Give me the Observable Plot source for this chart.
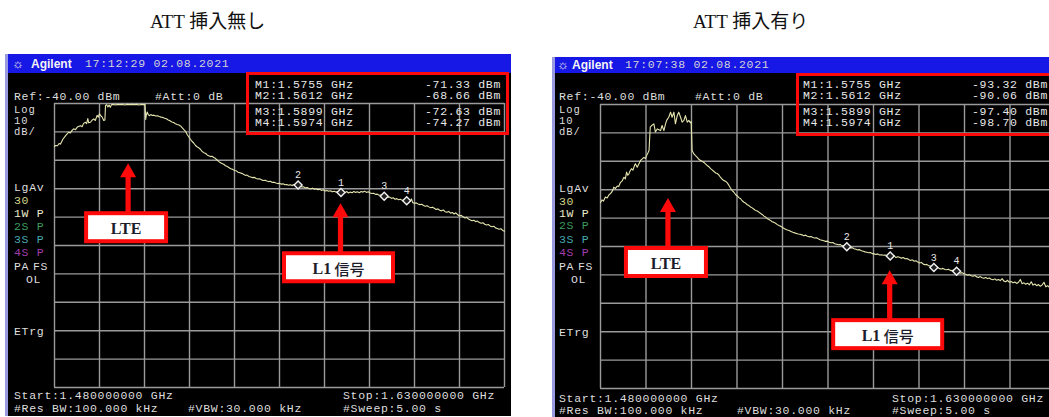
<!DOCTYPE html>
<html lang="ja">
<head>
<meta charset="utf-8">
<script src="https://cdn.jsdelivr.net/npm/d3@7"></script>
<script src="https://cdn.jsdelivr.net/npm/@observablehq/plot@0.6"></script>
<style>
html,body{margin:0;padding:0;background:#fff;}
#root{position:relative;width:1049px;height:417px;overflow:hidden;background:#fff;}
.abs{position:absolute;white-space:nowrap;}
.title{font-family:"Liberation Serif","Noto Sans CJK JP",serif;font-size:19px;line-height:20px;color:#111;}
.mono{font-family:"Liberation Mono","DejaVu Sans Mono",monospace;font-size:11.5px;line-height:10px;color:#dedede;letter-spacing:0.7px;}
.small{font-size:10.5px;line-height:9px;letter-spacing:1px;}
.brand{font-family:"Liberation Sans","DejaVu Sans",sans-serif;font-weight:bold;font-size:12px;line-height:10px;color:#f4f4f4;}
</style>
</head>
<body>
<div id="root"></div>
<script>
// ---------- data ----------
const FREQ_START = 1.48, FREQ_STOP = 1.63;      // GHz
const REF_LEVEL = -40, BOTTOM_LEVEL = -140;      // dBm, 10 dB/div
const xDivs = [1.480, 1.495, 1.510, 1.525, 1.540, 1.555, 1.570, 1.585, 1.600, 1.615, 1.630];
const yDivs = [-40, -50, -60, -70, -80, -90, -100, -110, -120, -130, -140];

const titles = ["ATT 挿入無し", "ATT 挿入有り"];
const timestamps = ["17:12:29 02.08.2021", "17:07:38 02.08.2021"];

const markerIds = [1, 2, 3, 4];
const markerFreqs = [1.5755, 1.5612, 1.5899, 1.5974];
const markerLevelsNoAtt = [-71.33, -68.66, -72.63, -74.27];
const markerLevelsAtt = [-93.32, -90.06, -97.40, -98.70];

const annotationLabels = ["LTE", "L1 信号"];
const annotationFreqNoAtt = [1.5047, 1.5755];
const annotationLevelNoAtt = [-61.2, -75.3];
const annotationFreqAtt = [1.5024, 1.5755];
const annotationLevelAtt = [-73.1, -98.5];

const traceFreqNoAtt = [
1.4800,1.4803,1.4810,1.4815,1.4820,1.4828,1.4837,1.4843,1.4848,1.4853,1.4858,1.4864,1.4870,1.4876,1.4882,1.4887,1.4892,1.4897,1.4903,1.4907,
1.4911,1.4914,1.4920,1.4925,1.4931,1.4936,1.4942,1.4946,1.4950,1.4955,1.4959,1.4964,1.4968,1.4970,1.4974,1.4978,1.4982,1.4986,1.4990,1.4996,
1.5003,1.5010,1.5018,1.5026,1.5034,1.5042,1.5050,1.5058,1.5066,1.5074,1.5082,1.5090,1.5098,1.5102,1.5104,1.5106,1.5109,1.5112,1.5116,1.5121,
1.5126,1.5131,1.5137,1.5143,1.5149,1.5155,1.5161,1.5167,1.5173,1.5179,1.5185,1.5191,1.5197,1.5203,1.5209,1.5215,1.5220,1.5226,1.5232,1.5237,
1.5242,1.5248,1.5253,1.5258,1.5264,1.5270,1.5276,1.5281,1.5287,1.5292,1.5298,1.5304,1.5309,1.5314,1.5320,1.5325,1.5331,1.5336,1.5341,1.5347,
1.5352,1.5358,1.5364,1.5370,1.5376,1.5382,1.5388,1.5394,1.5400,1.5406,1.5412,1.5418,1.5424,1.5430,1.5436,1.5442,1.5448,1.5454,1.5460,1.5466,
1.5472,1.5478,1.5484,1.5490,1.5496,1.5502,1.5508,1.5514,1.5520,1.5526,1.5532,1.5538,1.5544,1.5550,1.5556,1.5562,1.5568,1.5574,1.5580,1.5586,
1.5592,1.5598,1.5604,1.5612,1.5618,1.5624,1.5630,1.5636,1.5642,1.5648,1.5654,1.5660,1.5666,1.5672,1.5678,1.5684,1.5690,1.5696,1.5702,1.5708,
1.5714,1.5720,1.5726,1.5732,1.5738,1.5744,1.5750,1.5755,1.5762,1.5768,1.5774,1.5780,1.5786,1.5792,1.5798,1.5804,1.5810,1.5816,1.5822,1.5828,
1.5834,1.5840,1.5846,1.5852,1.5858,1.5864,1.5870,1.5876,1.5882,1.5888,1.5894,1.5899,1.5905,1.5911,1.5917,1.5923,1.5929,1.5935,1.5941,1.5947,
1.5953,1.5959,1.5965,1.5974,1.5980,1.5986,1.5990,1.5994,1.6000,1.6006,1.6012,1.6018,1.6024,1.6030,1.6036,1.6042,1.6048,1.6054,1.6060,1.6066,
1.6072,1.6078,1.6084,1.6090,1.6096,1.6102,1.6108,1.6114,1.6120,1.6126,1.6132,1.6138,1.6144,1.6150,1.6156,1.6162,1.6168,1.6174,1.6180,1.6186,
1.6192,1.6198,1.6204,1.6210,1.6216,1.6222,1.6228,1.6234,1.6240,1.6246,1.6252,1.6258,1.6264,1.6270,1.6276,1.6282,1.6288,1.6294,1.6300];
const traceLevelNoAtt = [
-55.2,-54.8,-54.9,-54.1,-54.3,-52.6,-51.3,-50.6,-50.1,-50.4,-49.5,-48.9,-49.2,-48.3,-48.0,-47.8,-48.2,-47.0,-46.6,-47.1,
-45.3,-46.8,-46.6,-45.9,-45.4,-46.0,-44.2,-44.8,-43.6,-44.4,-44.8,-46.0,-45.8,-40.7,-40.4,-41.2,-40.5,-41.3,-40.4,-40.3,
-40.5,-40.3,-40.4,-40.3,-40.5,-40.3,-40.4,-40.3,-40.4,-40.3,-40.5,-40.3,-40.4,-40.3,-45.6,-44.1,-43.0,-43.8,-44.3,-43.9,
-44.2,-44.1,-44.4,-44.3,-44.6,-44.8,-44.9,-45.2,-45.4,-45.8,-46.1,-46.5,-46.7,-47.1,-47.4,-47.6,-47.9,-48.6,-49.3,-49.8,
-50.9,-51.8,-52.6,-53.3,-53.9,-54.8,-55.3,-55.6,-56.2,-56.9,-57.3,-57.6,-58.1,-58.4,-58.7,-58.6,-59.0,-59.3,-59.8,-60.4,
-60.8,-61.1,-61.4,-61.9,-62.2,-62.6,-63.0,-63.2,-63.6,-63.7,-64.2,-64.4,-64.6,-64.9,-65.3,-65.2,-65.7,-65.9,-66.1,-66.0,
-66.4,-66.6,-66.5,-66.9,-67.1,-67.0,-67.3,-67.5,-67.4,-67.8,-67.7,-68.0,-68.2,-68.1,-68.4,-68.3,-68.6,-68.5,-68.8,-68.6,
-68.9,-68.5,-68.7,-68.66,-69.0,-69.4,-69.3,-69.7,-69.6,-69.9,-70.1,-69.8,-70.2,-70.0,-70.4,-70.2,-70.6,-70.4,-70.8,-70.6,
-70.9,-70.7,-71.1,-70.9,-71.2,-71.0,-71.3,-71.33,-71.1,-71.4,-71.0,-71.5,-71.2,-71.4,-71.0,-71.3,-71.1,-71.4,-71.0,-71.2,
-70.9,-71.3,-71.1,-71.5,-71.7,-71.6,-72.0,-71.9,-72.3,-72.2,-72.5,-72.63,-72.8,-73.1,-72.9,-73.4,-73.2,-73.7,-73.5,-73.9,
-73.7,-74.1,-74.0,-74.27,-74.7,-74.3,-73.6,-74.9,-75.1,-75.0,-75.4,-75.6,-75.5,-75.9,-76.2,-76.0,-76.4,-76.7,-76.5,-76.9,
-77.3,-77.1,-77.6,-77.8,-77.5,-78.1,-78.3,-78.0,-78.6,-78.4,-78.9,-78.5,-79.2,-79.6,-79.4,-79.9,-80.3,-80.1,-80.7,-81.0,
-81.3,-81.1,-81.6,-81.4,-81.9,-82.2,-82.0,-82.5,-82.8,-82.6,-83.1,-83.4,-83.2,-83.8,-84.0,-84.3,-84.1,-84.7,-85.0];

const traceFreqAtt = [
1.4800,1.4805,1.4810,1.4816,1.4822,1.4828,1.4833,1.4839,1.4844,1.4849,1.4855,1.4860,1.4866,1.4871,1.4877,1.4882,1.4886,1.4890,1.4893,1.4897,
1.4902,1.4907,1.4912,1.4915,1.4921,1.4926,1.4932,1.4937,1.4943,1.4948,1.4952,1.4957,1.4960,1.4964,1.4970,1.4976,1.4981,1.4987,1.4993,1.4998,
1.5003,1.5009,1.5014,1.5018,1.5025,1.5031,1.5036,1.5042,1.5047,1.5053,1.5058,1.5064,1.5069,1.5075,1.5080,1.5086,1.5091,1.5096,1.5099,1.5102,
1.5108,1.5113,1.5119,1.5125,1.5130,1.5136,1.5141,1.5146,1.5152,1.5157,1.5163,1.5168,1.5174,1.5180,1.5185,1.5190,1.5196,1.5201,1.5207,1.5212,
1.5218,1.5223,1.5229,1.5234,1.5240,1.5245,1.5251,1.5256,1.5262,1.5267,1.5273,1.5278,1.5284,1.5289,1.5295,1.5300,1.5306,1.5311,1.5317,1.5322,
1.5328,1.5333,1.5339,1.5344,1.5350,1.5355,1.5361,1.5366,1.5372,1.5377,1.5383,1.5388,1.5394,1.5399,1.5404,1.5410,1.5416,1.5422,1.5428,1.5434,
1.5440,1.5446,1.5452,1.5458,1.5464,1.5470,1.5476,1.5482,1.5488,1.5494,1.5500,1.5506,1.5512,1.5518,1.5524,1.5530,1.5536,1.5542,1.5548,1.5554,
1.5560,1.5566,1.5572,1.5578,1.5584,1.5590,1.5596,1.5602,1.5606,1.5612,1.5618,1.5624,1.5630,1.5636,1.5642,1.5648,1.5654,1.5660,1.5666,1.5672,
1.5678,1.5684,1.5690,1.5696,1.5702,1.5708,1.5714,1.5720,1.5726,1.5732,1.5738,1.5744,1.5750,1.5755,1.5762,1.5768,1.5774,1.5780,1.5786,1.5792,
1.5798,1.5804,1.5810,1.5816,1.5822,1.5828,1.5834,1.5840,1.5846,1.5852,1.5858,1.5864,1.5870,1.5876,1.5882,1.5888,1.5894,1.5899,1.5905,1.5911,
1.5917,1.5923,1.5929,1.5935,1.5941,1.5947,1.5953,1.5959,1.5965,1.5974,1.5980,1.5986,1.5992,1.5998,1.6004,1.6010,1.6016,1.6022,1.6028,1.6034,
1.6040,1.6046,1.6052,1.6058,1.6064,1.6070,1.6076,1.6082,1.6088,1.6094,1.6100,1.6106,1.6112,1.6118,1.6124,1.6130,1.6136,1.6142,1.6148,1.6154,
1.6160,1.6166,1.6172,1.6178,1.6184,1.6190,1.6196,1.6202,1.6208,1.6214,1.6220,1.6226,1.6232,1.6238,1.6244,1.6250,1.6256,1.6262,1.6268,1.6274,
1.6280,1.6286,1.6292,1.6300];
const traceLevelAtt = [
-74.5,-73.6,-74.0,-72.6,-72.9,-71.8,-71.4,-70.5,-69.1,-69.6,-68.7,-68.9,-67.4,-67.0,-65.6,-66.2,-63.8,-64.9,-64.6,-63.5,
-62.6,-63.1,-61.5,-60.9,-62.1,-61.0,-59.7,-59.2,-58.6,-59.0,-58.0,-56.9,-56.2,-48.0,-47.3,-46.8,-49.7,-48.6,-48.9,-49.2,
-47.4,-49.2,-47.0,-45.6,-44.5,-42.7,-44.5,-42.7,-46.8,-43.9,-42.7,-44.5,-46.2,-45.6,-43.9,-46.2,-45.6,-46.4,-46.0,-56.2,
-57.4,-58.0,-58.6,-59.4,-59.7,-60.1,-60.4,-60.9,-61.5,-61.9,-62.6,-63.0,-63.6,-64.1,-64.3,-64.8,-65.7,-66.3,-66.8,-67.0,
-67.6,-68.4,-69.5,-70.3,-70.9,-71.7,-72.2,-72.8,-73.2,-73.9,-74.4,-74.7,-75.3,-75.6,-76.1,-76.4,-76.9,-77.3,-77.5,-77.9,
-78.4,-78.7,-79.3,-79.6,-80.2,-80.5,-80.9,-81.3,-81.5,-81.8,-82.3,-82.6,-82.9,-83.2,-83.6,-83.9,-84.2,-84.4,-84.7,-85.0,
-85.2,-85.4,-85.6,-85.7,-85.9,-86.2,-86.0,-86.4,-86.6,-86.5,-86.8,-87.0,-86.9,-87.3,-87.6,-87.8,-88.0,-88.2,-88.1,-88.5,
-88.7,-88.6,-89.0,-89.2,-89.4,-89.3,-89.7,-89.8,-89.9,-90.06,-90.3,-90.5,-90.4,-90.8,-91.0,-91.2,-91.1,-91.5,-91.7,-91.9,
-92.0,-92.2,-92.1,-92.5,-92.6,-92.8,-92.6,-93.0,-92.9,-93.1,-93.0,-93.2,-93.1,-93.32,-93.5,-93.3,-93.9,-93.6,-93.8,-94.1,
-93.9,-94.3,-94.2,-94.6,-94.9,-94.7,-95.2,-95.0,-95.5,-95.8,-95.6,-96.2,-96.4,-96.3,-96.8,-96.9,-97.1,-97.40,-97.5,-97.3,
-97.8,-97.9,-97.7,-98.1,-98.2,-98.0,-98.4,-98.5,-98.3,-98.70,-99.0,-99.4,-99.2,-99.6,-99.8,-100.1,-99.9,-100.3,-100.5,-100.2,
-100.7,-100.9,-100.6,-101.0,-101.2,-100.9,-101.3,-101.1,-101.5,-101.7,-101.4,-101.9,-101.6,-102.0,-101.3,-102.2,-102.4,-101.9,-102.6,-102.3,
-102.8,-102.5,-103.0,-102.6,-101.6,-103.1,-102.8,-103.3,-102.9,-103.5,-102.4,-103.6,-103.2,-103.8,-103.4,-104.0,-103.5,-102.6,-104.2,-103.8,
-104.4,-104.0,-104.6,-104.3];

// ---------- layout / style (not data) ----------
const GRID_COLOR = "#9a9a9a", TRACE_COLOR = "#e4e4ae", RED = "#ff0a0a";
const MONO = '"Liberation Mono","DejaVu Sans Mono",monospace';
const layouts = [
  {titleX:150, frame:[5,54,511,416], hdr:[54,73], grid:[54,103,504,387], iconX:12, brandX:31, timeX:85, hdrY:64,
   col:14, attX:155, olX:26, fsX:33, vbwX:188, stopX:343,
   rows:{ref:97, log:111, ten:122, dbdiv:133, lgav:188, avg:201, w1:214, s2:227, s3:240, s4:253, pafs:267, ol:280, etrg:332, start:396, res:409},
   mkLabelX:255, mkValueX:425, mkRows:[85,96,112,123], mkBox:[246,72,509,135]},
  {titleX:693, frame:[552,57,1062,418], hdr:[57,73], grid:[600,104,1055,388], iconX:557, brandX:572, timeX:625, hdrY:65,
   col:559, attX:695, olX:571, fsX:578, vbwX:737, stopX:892,
   rows:{ref:97, log:111, ten:122, dbdiv:133, lgav:189, avg:202, w1:214, s2:226, s3:240, s4:253, pafs:267, ol:280, etrg:333, start:399, res:411},
   mkLabelX:803, mkValueX:972, mkRows:[85,96,112,123], mkBox:[796,73,1058,136]}
];
const annBoxW = {"LTE": 84, "L1 信号": 113};

const zip = (fs, ds) => fs.map((f, i) => ({f, db: ds[i]}));
const panels = [
  {title: titles[0], time: timestamps[0], trace: zip(traceFreqNoAtt, traceLevelNoAtt),
   markers: markerIds.map((id, i) => ({id, f: markerFreqs[i], db: markerLevelsNoAtt[i]})),
   annots: annotationLabels.map((label, i) => ({label, f: annotationFreqNoAtt[i], db: annotationLevelNoAtt[i]})), L: layouts[0]},
  {title: titles[1], time: timestamps[1], trace: zip(traceFreqAtt, traceLevelAtt),
   markers: markerIds.map((id, i) => ({id, f: markerFreqs[i], db: markerLevelsAtt[i]})),
   annots: annotationLabels.map((label, i) => ({label, f: annotationFreqAtt[i], db: annotationLevelAtt[i]})), L: layouts[1]}
];

const root = document.getElementById("root");
function box(x, y, w, h, css) {
  const d = document.createElement("div");
  d.className = "abs";
  Object.assign(d.style, {left: x + "px", top: y + "px", width: w + "px", height: h + "px"}, css || {});
  root.appendChild(d);
  return d;
}
function txt(x, cy, s, color, cls) {
  const d = document.createElement("div");
  d.className = "abs " + (cls || "mono");
  d.style.left = x + "px";
  d.style.top = (cy - 5) + "px";
  d.textContent = s;
  if (color) d.style.color = color;
  root.appendChild(d);
  return d;
}
function scaleFn(s) {
  if (typeof s.apply === "function") return v => s.apply(v);
  const [d0, d1] = s.domain, [r0, r1] = s.range;
  return v => r0 + (v - d0) / (d1 - d0) * (r1 - r0);
}

const annotationsToDraw = [];

for (const p of panels) {
  const L = p.L;
  const [fl, ft, fr, fb] = L.frame;
  const [gl, gt, gr, gb] = L.grid;
  // title
  const t = document.createElement("div");
  t.className = "abs title";
  t.style.left = L.titleX + "px"; t.style.top = "12px";
  t.textContent = p.title;
  root.appendChild(t);
  // instrument screen
  box(fl, ft, fr - fl, fb - ft, {background: "#000", borderLeft: "3px solid #9a9ae0", boxSizing: "border-box"});
  const chart = Plot.plot({
    width: fr - fl, height: fb - ft,
    marginLeft: gl - fl, marginRight: fr - gr, marginTop: gt - ft, marginBottom: fb - gb,
    x: {domain: [FREQ_START, FREQ_STOP], axis: null},
    y: {domain: [BOTTOM_LEVEL, REF_LEVEL], axis: null},
    style: {background: "transparent", overflow: "visible"},
    marks: [
      Plot.ruleX(xDivs, {stroke: GRID_COLOR, strokeWidth: 1.4}),
      Plot.ruleY(yDivs, {stroke: GRID_COLOR, strokeWidth: 1.4}),
      Plot.line(p.trace, {x: "f", y: "db", stroke: TRACE_COLOR, strokeWidth: 1.1}),
      Plot.dot(p.markers, {x: "f", y: "db", symbol: "diamond2", r: 3.6, stroke: "#f2f2f2", strokeWidth: 1.4, fill: "#202020"}),
      Plot.text(p.markers, {x: "f", y: "db", text: d => String(d.id), dy: -10, fill: "#e6e6e6", fontSize: 10, fontFamily: MONO})
    ]
  });
  const holder = box(fl, ft, fr - fl, fb - ft, {});
  holder.appendChild(chart);
  const sx = scaleFn(chart.scale("x")), sy = scaleFn(chart.scale("y"));
  for (const a of p.annots) annotationsToDraw.push({label: a.label, x: fl + sx(a.f), y: ft + sy(a.db)});

  // header
  box(fl + 3, L.hdr[0], fr - fl - 3, L.hdr[1] - L.hdr[0], {background: "#1717e6"});
  const ic = txt(L.iconX, L.hdrY, "☼", "#e8e8e8", "brand");
  ic.style.fontWeight = "normal"; ic.style.fontSize = "13px";
  txt(L.brandX, L.hdrY, "Agilent", null, "brand");
  txt(L.timeX, L.hdrY, p.time, "#d4d4d4");
  // left column & status text
  const R = L.rows;
  txt(L.col, R.ref, "Ref:-40.00 dBm");
  txt(L.attX, R.ref, "#Att:0 dB");
  txt(L.col, R.log, "Log", null, "mono small");
  txt(L.col, R.ten, "10", null, "mono small");
  txt(L.col, R.dbdiv, "dB/", null, "mono small");
  txt(L.col, R.lgav, "LgAv");
  txt(L.col, R.avg, "30", "#d6d68c");
  txt(L.col, R.w1, "1W P", "#ececcc");
  txt(L.col, R.s2, "2S P", "#3c9c5c");
  txt(L.col, R.s3, "3S P", "#46aab0");
  txt(L.col, R.s4, "4S P", "#a23cac");
  txt(L.col, R.pafs, "PA");
  txt(L.fsX, R.pafs, "FS");
  txt(L.olX, R.ol, "OL");
  txt(L.col, R.etrg, "ETrg");
  txt(L.col, R.start, "Start:1.480000000 GHz");
  txt(L.col, R.res, "#Res BW:100.000 kHz");
  txt(L.vbwX, R.res, "#VBW:30.000 kHz");
  txt(L.stopX, R.start, "Stop:1.630000000 GHz");
  txt(L.stopX, R.res, "#Sweep:5.00 s");
  // marker table
  p.markers.forEach((m, i) => {
    txt(L.mkLabelX, L.mkRows[i], `M${m.id}:${m.f.toFixed(4)} GHz`, "#e8e8e8");
    txt(L.mkValueX, L.mkRows[i], `${m.db.toFixed(2)} dBm`, "#e8e8e8");
  });
  const [bx0, by0, bx1, by1] = L.mkBox;
  box(bx0, by0, bx1 - bx0, by1 - by0, {border: "3px solid " + RED, boxSizing: "border-box"});
}

// annotation arrows and labels (anchored on scale positions)
const ov = d3.select(root).append("svg")
  .attr("width", 1049).attr("height", 417)
  .style("position", "absolute").style("left", "0px").style("top", "0px");
for (const a of annotationsToDraw) {
  const g = ov.append("g").attr("transform", `translate(${a.x},${a.y})`);
  g.append("rect").attr("x", -2.6).attr("y", 12).attr("width", 5.2).attr("height", 37).attr("fill", RED);
  g.append("path").attr("d", "M0,0L-8,14L8,14Z").attr("fill", RED);
  const w = annBoxW[a.label], h = 32, cx = -2;
  g.append("rect").attr("x", cx - w / 2 + 2).attr("y", 48 + 2).attr("width", w - 4).attr("height", h - 4)
    .attr("fill", "#fff").attr("stroke", RED).attr("stroke-width", 4);
  const tx = g.append("text").attr("x", cx).attr("y", 48 + h / 2 + 1)
    .attr("text-anchor", "middle").attr("dominant-baseline", "central")
    .attr("font-family", '"Liberation Serif","Noto Sans CJK JP",serif').attr("font-size", 16).attr("fill", "#1c1c2a");
  const parts = a.label.split(" ");
  tx.append("tspan").attr("font-weight", "bold").text(parts[0]);
  if (parts[1]) tx.append("tspan").attr("font-family", '"Noto Sans CJK JP",sans-serif').attr("font-weight", 500)
    .attr("font-size", 15).text(" " + parts[1]);
}
</script>
</body>
</html>
